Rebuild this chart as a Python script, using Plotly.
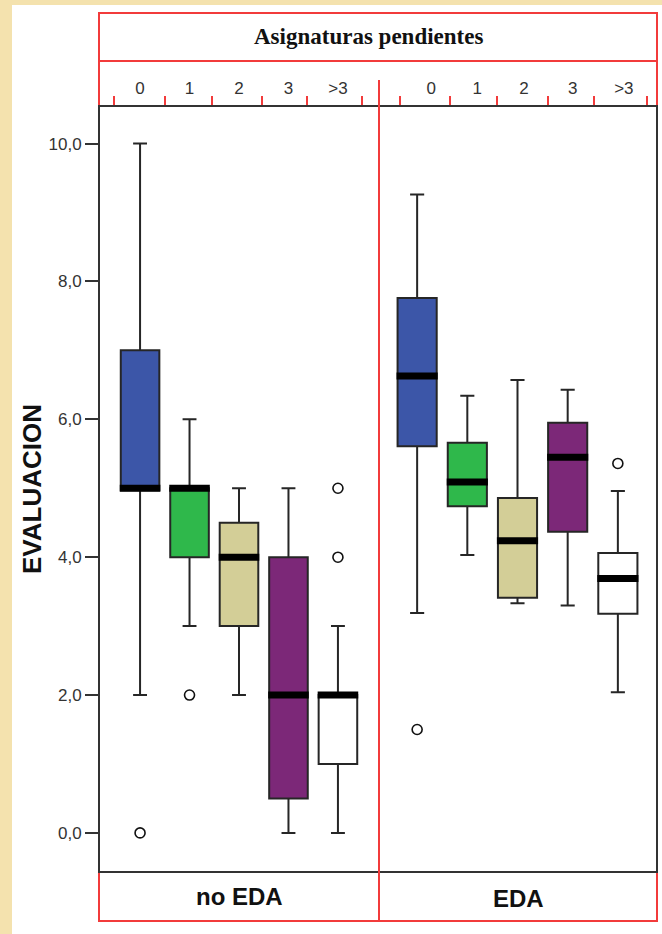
import plotly.graph_objects as go

# ---- data ----
categories = ["0", "1", "2", "3", ">3"]
box_colors = ["#3C56A8", "#2FB84B", "#D3CE97", "#7C2878", "#FFFFFF"]

# no EDA panel
noeda_lower = [2.0, 3.0, 2.0, 0.0, 0.0]
noeda_q1 = [4.97, 4.0, 3.0, 0.5, 1.0]
noeda_median = [5.0, 5.0, 4.0, 2.0, 2.0]
noeda_q3 = [7.0, 5.0, 4.5, 4.0, 2.0]
noeda_upper = [10.0, 6.0, 5.0, 5.0, 3.0]
noeda_outliers = [[0.0], [2.0], [], [], [5.0, 4.0]]

# EDA panel
eda_lower = [3.19, 4.03, 3.33, 3.30, 2.04]
eda_q1 = [5.61, 4.74, 3.41, 4.37, 3.18]
eda_median = [6.63, 5.09, 4.24, 5.45, 3.69]
eda_q3 = [7.76, 5.66, 4.86, 5.95, 4.06]
eda_upper = [9.26, 6.34, 6.57, 6.43, 4.96]
eda_outliers = [[1.50], [], [], [], [5.36]]

group_labels = ["no EDA", "EDA"]
x_title = "Asignaturas pendientes"
y_title = "EVALUACION"

# ---- figure geometry (pixels) ----
W, H = 662, 934
L, R, T, B = 99, 657, 106, 872
pw, ph = R - L, B - T
DIV = 379
def px(x):
    return (x - L) / pw
def py(y):
    return (B - y) / ph

BOX_W = 0.78
fig = go.Figure()

panels = [
    ("x", "y", noeda_lower, noeda_q1, noeda_median, noeda_q3, noeda_upper, noeda_outliers),
    ("x2", "y2", eda_lower, eda_q1, eda_median, eda_q3, eda_upper, eda_outliers),
]
for xa, ya, lo, q1, med, q3, up, outs in panels:
    for i, cat in enumerate(categories):
        fig.add_trace(go.Box(
            x=[i], q1=[q1[i]], median=[med[i]], q3=[q3[i]],
            lowerfence=[lo[i]], upperfence=[up[i]],
            fillcolor=box_colors[i], line=dict(color="#262626", width=2),
            whiskerwidth=0.36, width=BOX_W, boxpoints=False,
            xaxis=xa, yaxis=ya, showlegend=False, hoverinfo="skip",
        ))
        fig.add_trace(go.Scatter(
            x=[i - BOX_W / 2 - 0.02, i + BOX_W / 2 + 0.02], y=[med[i], med[i]],
            mode="lines", line=dict(color="#000000", width=7),
            xaxis=xa, yaxis=ya, showlegend=False, hoverinfo="skip",
        ))
        if outs[i]:
            fig.add_trace(go.Scatter(
                x=[i] * len(outs[i]), y=outs[i], mode="markers",
                marker=dict(symbol="circle-open", size=10, color="#111111",
                            line=dict(width=1.6, color="#111111")),
                xaxis=xa, yaxis=ya, showlegend=False, hoverinfo="skip",
            ))

yrange = [-0.567, 10.545]
tickfont = dict(family="Liberation Sans, Arial", size=17, color="#333333")
RED = "#F23B3B"

common_x = dict(
    side="top", ticks="outside", ticklen=4, tickcolor="rgba(0,0,0,0)",
    tickfont=tickfont, showgrid=False, zeroline=False, showline=False,
    tickmode="array", ticktext=categories, fixedrange=True,
)

fig.update_layout(
    width=W, height=H,
    margin=dict(l=L, r=W - R, t=T, b=H - B, pad=0),
    paper_bgcolor="#F4E2AE", plot_bgcolor="#FFFFFF",
    separators=",.",
    showlegend=False,
    xaxis=dict(domain=[0, px(DIV)], range=[-0.83, 4.83], anchor="y",
               tickvals=[0, 1, 2, 3, 4],
               minor=dict(tickmode="array", tickvals=[-0.52, 0.5, 1.46, 2.47, 3.37, 4.48],
                          ticks="outside", ticklen=9, tickcolor=RED, tickwidth=2,
                          showgrid=False),
               **common_x),
    xaxis2=dict(domain=[px(DIV), 1], range=[-0.76, 4.78], anchor="y2",
                tickvals=[0.28, 1.2, 2.13, 3.1, 4.12],
                minor=dict(tickmode="array", tickvals=[-0.34, 0.66, 1.59, 2.61, 3.53, 4.58],
                           ticks="outside", ticklen=9, tickcolor=RED, tickwidth=2,
                           showgrid=False),
                **common_x),
    yaxis=dict(range=yrange, anchor="x", tickformat=".1f", dtick=2, tick0=0,
               ticks="outside", ticklen=13, tickwidth=2, tickcolor="#333333",
               tickfont=tickfont, showgrid=False, zeroline=False, showline=False,
               fixedrange=True),
    yaxis2=dict(range=yrange, anchor="x2", matches="y", showticklabels=False,
                ticks="", showgrid=False, zeroline=False, showline=False),
)

shapes = [
    # white card
    dict(type="rect", xref="paper", yref="paper", x0=px(12), x1=px(W + 5),
         y0=py(H + 5), y1=py(5), fillcolor="#FFFFFF", line=dict(width=0), layer="below"),
    # red outer frame
    dict(type="rect", xref="paper", yref="paper", x0=px(L), x1=px(R),
         y0=py(921), y1=py(13), line=dict(color=RED, width=2), layer="above"),
    # title separator
    dict(type="line", xref="paper", yref="paper", x0=px(L), x1=px(R),
         y0=py(61), y1=py(61), line=dict(color=RED, width=2), layer="above"),
    # black plot frame
    dict(type="rect", xref="paper", yref="paper", x0=px(L), x1=px(R),
         y0=0, y1=1, line=dict(color="#333333", width=2), layer="above"),
    # red panel divider
    dict(type="line", xref="paper", yref="paper", x0=px(DIV), x1=px(DIV),
         y0=py(920), y1=py(80), line=dict(color=RED, width=2), layer="above"),
]
fig.update_layout(shapes=shapes)

annotations = [
    dict(text="<b>" + x_title + "</b>", xref="paper", yref="paper",
         x=px((L + R) / 2 - 10), y=py(37), xanchor="center", yanchor="middle",
         showarrow=False, font=dict(family="Liberation Serif, Times New Roman", size=23, color="#111111")),
    dict(text="<b>" + y_title + "</b>", xref="paper", yref="paper",
         x=px(32), y=0.5, xanchor="center", yanchor="middle", textangle=-90,
         showarrow=False, font=dict(family="Liberation Sans, Arial", size=26, color="#111111")),
    dict(text="<b>" + group_labels[0] + "</b>", xref="paper", yref="paper",
         x=px((L + DIV) / 2), y=py(896), xanchor="center", yanchor="middle",
         showarrow=False, font=dict(family="Liberation Sans, Arial", size=24, color="#111111")),
    dict(text="<b>" + group_labels[1] + "</b>", xref="paper", yref="paper",
         x=px((DIV + R) / 2), y=py(898), xanchor="center", yanchor="middle",
         showarrow=False, font=dict(family="Liberation Sans, Arial", size=24, color="#111111")),
]
fig.update_layout(annotations=annotations)

fig.write_html("out.html", config={"displayModeBar": False},
               post_script="document.body.style.margin='0';document.body.style.overflow='hidden';")
